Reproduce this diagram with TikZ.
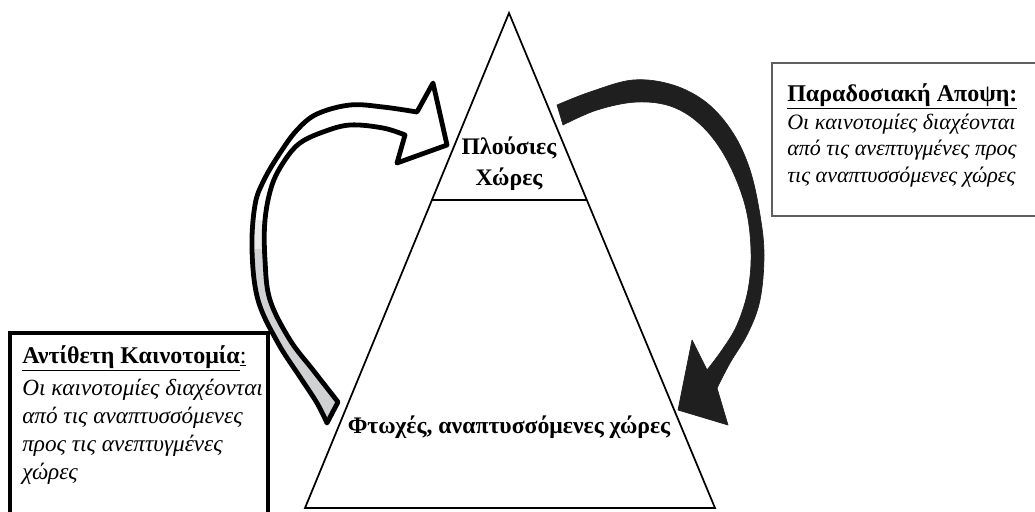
\documentclass[tikz,border=0pt]{standalone}
\usepackage{fontspec}
\setmainfont{Liberation Serif}
\usetikzlibrary{calc}
\definecolor{arrowgray}{RGB}{208,209,211}
\definecolor{boxgray}{RGB}{95,95,95}
\begin{document}
\begin{tikzpicture}[x=0.75pt,y=-0.75pt,
    tierlabel/.style = {font=\fontsize{17.8}{23}\selectfont\bfseries, align=center, inner sep=0pt},
    leftnote/.style  = {font=\fontsize{17.4}{21}\selectfont, align=left, anchor=north west, inner sep=0pt},
    rightnote/.style = {font=\fontsize{16.5}{20}\selectfont, align=left, anchor=north west, inner sep=0pt},
    notetitle/.style = {font=\fontsize{18}{21}\selectfont\bfseries},
    hollowarrow/.style = {line width=3.6pt, line join=round, fill=white},
    blackarrow/.style  = {fill=black!88, draw=black!88, line width=0.5pt, line join=round}]
    \useasboundingbox (0,0) rectangle (1035,511);

    % pyramid
    \coordinate (apex) at (509,13);
    \coordinate (bl) at (305,508);
    \coordinate (br) at (715,508);
    \draw[line width=1.3pt, line join=miter] (apex) -- (bl) -- (br) -- cycle;
    \draw[line width=1.6pt] ($(apex)!0.3778!(bl)$) -- ($(apex)!0.3778!(br)$);

    \node[tierlabel] (rich) at (509,164) {Πλούσιες\\Χώρες};
    \node[tierlabel, anchor=base] (poor) at (509,433) {Φτωχές, αναπτυσσόμενες χώρες};

    % note boxes
    \draw[line width=2.6pt] (10,333) rectangle (268,530);
    \node[leftnote] (counter) at (22,345) {{\fontsize{18}{21}\selectfont\textbf{\underline{Αντίθετη Καινοτομία}}\underline{:}}\\[3pt]
        \textit{Οι καινοτομίες διαχέονται}\\
        \textit{από τις αναπτυσσόμενες}\\
        \textit{προς τις ανεπτυγμένες}\\
        \textit{χώρες}};

    \draw[boxgray, line width=1.2pt] (772,63) rectangle (1045,216);
    \node[rightnote] (classic) at (787,83) {{\fontsize{18}{20}\selectfont\textbf{\underline{Παραδοσιακή Αποψη:}}}\\[1pt]
        \textit{Οι καινοτομίες διαχέονται}\\
        \textit{από τις ανεπτυγμένες προς}\\
        \textit{τις αναπτυσσόμενες χώρες}};

    % upward arrow (poor -> rich)
    \coordinate (uptail) at (327,423);
    \coordinate (uptip) at (447,145);
    \draw[hollowarrow, path picture={
            \shade[top color=white, bottom color=arrowgray] (230,220) rectangle (360,250);
            \fill[arrowgray] (230,249) rectangle (360,440);}]
        (uptail) -- plot[smooth, tension=0.6] coordinates {(327,423) (317,403) (300,377) (278,343) (258,300) (252,250) (255,205) (264,180) (280,153) (297,130) (317,114) (350,105) (383,107) (417,112)}
        -- (433,83) -- (uptip) -- (397,163) -- (405,135)
        -- plot[smooth, tension=0.6] coordinates {(405,135) (383,128) (350,125) (323,132) (300,143) (285,160) (272,185) (265,220) (265,260) (270,300) (290,340) (313,370) (338,402)}
        -- cycle;

    % downward arrow (rich -> poor)
    \coordinate (downtail) at (557,105);
    \coordinate (downtip) at (678,410);
    \draw[blackarrow]
        (downtail) -- plot[smooth, tension=0.6] coordinates {(557,105) (590,92) (633,80) (673,85) (707,103) (733,133) (750,170) (760,215) (764,255) (760,300) (748,333) (730,363) (717,388)}
        -- (728,425) -- (downtip) -- (692,340) -- (707,370)
        -- plot[smooth, tension=0.6] coordinates {(707,370) (722,350) (737,325) (748,290) (751,250) (745,205) (727,160) (703,127) (673,107) (637,102) (597,110) (563,125)}
        -- cycle;
\end{tikzpicture}
\end{document}
